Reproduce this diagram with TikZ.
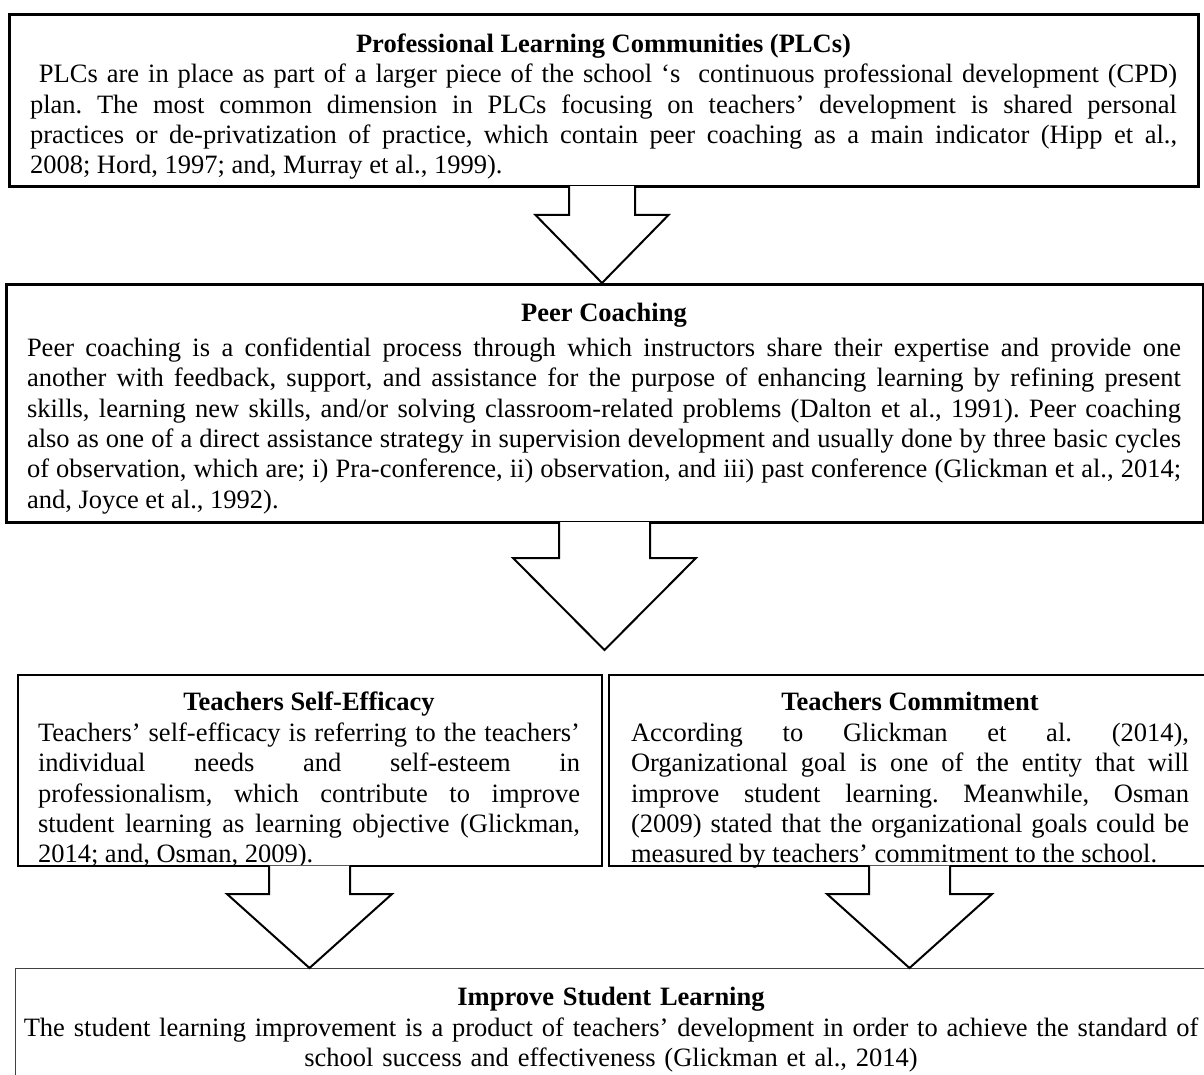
\documentclass[tikz,border=0pt]{standalone}
\usepackage{fontspec}
\setmainfont{Liberation Serif}
\usepackage{tikz}
\usetikzlibrary{calc}
\setlength{\parindent}{0pt}
\tolerance=10000
\hbadness=10000
\frenchspacing

\newcommand{\boxtitle}[1]{{\centering\bfseries\strut #1\par}}
% hollow block arrow: start, tip, shaft half width, head half width, head length
\newcommand{\blockarrow}[5]{%
  \path[block arrow] ($(#1)+(-#3,-1.5)$) -- ($(#2)+(-#3,-#5)$) -- ($(#2)+(-#4,-#5)$)
    -- (#2) -- ($(#2)+(#4,-#5)$) -- ($(#2)+(#3,-#5)$) -- ($(#1)+(#3,-1.5)$);}

\begin{document}
\begin{tikzpicture}[%
    x=0.5pt, y=-0.5pt,
    box/.style={%
      draw, rectangle,
      line width=1.3pt,
      inner sep=0pt,
      anchor=north west
    },
    txt/.style={%
      anchor=north, inner sep=0pt,
      align=justify,
      font=\fontsize{13.25}{15.2}\selectfont
    },
    block arrow/.style={draw, fill=white, line width=1pt, miter limit=20}
  ]
    \useasboundingbox (0,0) rectangle (1204,1075);

    \node[box, minimum width=594.5pt, minimum height=86pt] (1) at (8,13) {};
    \node[box, minimum width=598.5pt, minimum height=119pt] (2) at (5,283) {};
    \node[box, line width=1.1pt, minimum width=292pt, minimum height=95.5pt] (3) at (17,674) {};
    \node[box, line width=1.1pt, minimum width=302pt, minimum height=95.5pt] (4) at (608,674) {};
    \node[box, line width=0.6pt, draw=black!75, minimum width=596pt, minimum height=61pt] (5) at (15,968) {};

    \node[txt, text width=573.5pt] (1t) at (603.5,30.7) {\boxtitle{Professional Learning Communities (PLCs)}\ PLCs are in place as part of a larger piece of the school ‘s\ \ continuous professional development (CPD)\linebreak
      plan. The most common dimension in PLCs focusing on teachers’ development is shared personal\linebreak
      practices or de-privatization of practice, which contain peer coaching as a main indicator (Hipp et al.,\linebreak
      2008; Hord, 1997; and, Murray et al., 1999).};

    \node[txt, text width=577pt] (2t) at (604,299.7) {\boxtitle{Peer Coaching}\vspace{2.3pt}Peer coaching is a confidential process through which instructors share their expertise and provide one\linebreak
      another with feedback, support, and assistance for the purpose of enhancing learning by refining present\linebreak
      skills, learning new skills, and/or solving classroom-related problems (Dalton et al., 1991). Peer coaching\linebreak
      also as one of a direct assistance strategy in supervision development and usually done by three basic cycles\linebreak
      of observation, which are; i) Pra-conference, ii) observation, and iii) past conference (Glickman et al., 2014;\linebreak
      and, Joyce et al., 1992).};

    \begin{scope}
      \clip (3.south west) rectangle (3.north east);
      \node[txt, text width=271pt] (3t) at (309,689.2) {\boxtitle{Teachers Self-Efficacy}Teachers’ self-efficacy is referring to the teachers’\linebreak
        individual needs and self-esteem in\linebreak
        professionalism, which contribute to improve\linebreak
        student learning as learning objective (Glickman,\linebreak
        2014; and, Osman, 2009).};
    \end{scope}

    \begin{scope}
      \clip (4.south west) rectangle (4.north east);
      \node[txt, text width=279pt] (4t) at (910,689.2) {\boxtitle{Teachers Commitment}According to Glickman et al. (2014),\linebreak
        Organizational goal is one of the entity that will\linebreak
        improve student learning. Meanwhile, Osman\linebreak
        (2009) stated that the organizational goals could be\linebreak
        measured by teachers’ commitment to the school.};
    \end{scope}

    \node[txt, align=center, text width=590pt] (5t) at (611,984.2) {\boxtitle{Improve Student Learning}The student learning improvement is a product of teachers’ development in order to achieve the standard of\\
      school success and effectiveness (Glickman et al., 2014)};

    \coordinate (c1) at (602,0);
    \coordinate (tip2) at (604.5,650);
    \coordinate (c3) at (309.5,0);
    \coordinate (c4) at (909.5,0);

    \blockarrow{1.south -| c1}{2.north -| c1}{33}{66.5}{68}
    \blockarrow{2.south -| tip2}{tip2}{45.5}{91.5}{92}
    \blockarrow{3.south -| c3}{5.north -| c3}{40.5}{82.5}{74}
    \blockarrow{4.south -| c4}{5.north -| c4}{40.5}{82.5}{74}
\end{tikzpicture}
\end{document}
